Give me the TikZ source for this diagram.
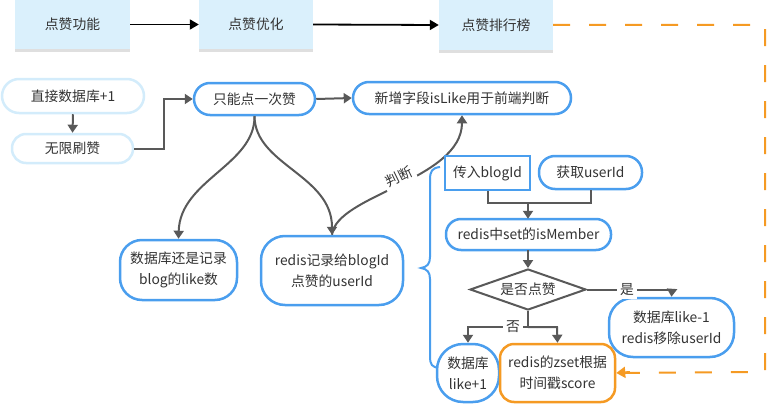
\documentclass[tikz,border=0pt]{standalone}
\usepackage{fontspec}
\setmainfont{Noto Sans CJK SC}
\usetikzlibrary{arrows.meta,shapes.geometric,shadows}
\definecolor{bl}{HTML}{4A9EEE}
\definecolor{pale}{HTML}{D3ECFB}
\definecolor{topfill}{HTML}{DAF0FC}
\definecolor{gr}{HTML}{595959}
\definecolor{org}{HTML}{F59A23}
\definecolor{txt}{HTML}{333333}
\begin{document}
\begin{tikzpicture}[x=1pt,y=-1pt,
  every node/.style={font=\fontsize{13.8}{21}\selectfont, text=txt, inner sep=0pt, align=center},
  topbox/.style={fill=topfill, minimum width=115pt, minimum height=49pt,
    drop shadow={shadow xshift=0pt, shadow yshift=-3pt, opacity=0.25, fill=gray}},
  palebox/.style={draw=pale, line width=2.5pt, fill=white, rounded corners=16pt, minimum height=32pt},
  bluebox/.style={draw=bl, line width=2.5pt, fill=white, rounded corners=16pt, minimum height=32pt},
  blackarrow/.style={line width=1.8pt, black, -{Triangle[length=9pt,width=10pt]}},
  conn/.style={line width=2pt, gr},
  garrow/.style={line width=2pt, gr, -{Triangle[length=8pt,width=10pt]}},
  lbl/.style={fill=white, inner sep=3pt},
  orgdash/.style={line width=2pt, org, dash pattern=on 17pt off 19pt}
]
\useasboundingbox (0,0) rectangle (768,404);

% top row
\node[topbox] (t1) at (72.5,24.5) {点赞功能};
\node[topbox, minimum width=114pt] (t2) at (256,24.5) {点赞优化};
\node[topbox, minimum width=114pt, minimum height=50pt] (t3) at (496,25) {点赞排行榜};
\draw[blackarrow] (t1.east) -- (t2.west);
\draw[blackarrow] (t2.east) -- (t3.west);

% left column
\node[palebox, minimum width=142pt, minimum height=34pt, rounded corners=17pt] (a1) at (73,96) {直接数据库+1};
\node[palebox, minimum width=121pt, minimum height=29pt, rounded corners=14pt] (a2) at (72.5,148.5) {无限刷赞};
\draw[garrow] (a1.south) -- (a2.north);

\node[bluebox, minimum width=121pt] (b1) at (254.5,99) {只能点一次赞};
\node[bluebox, minimum width=218pt] (b2) at (462,98) {新增字段isLike用于前端判断};
\coordinate (k1) at (164,148.5);
\draw[garrow] (a2.east) -- (k1) |- (b1.west);
\draw[garrow] (b1.east) -- (b2.west);

\node[bluebox, minimum width=117pt, minimum height=60pt, rounded corners=22pt] (c1) at (178.5,270) {数据库还是记录\\blog的like数};
\node[bluebox, minimum width=142pt, minimum height=69pt, rounded corners=24pt] (c2) at (332,270.5) {redis记录给blogId\\点赞的userId};
\draw[garrow] (b1.south) .. controls (255,165) and (180,180) .. (c1.north);
\draw[garrow] (b1.south) .. controls (255,165) and (332,175) .. (c2.north);
\draw[garrow] (c2.north) .. controls (336,195) and (462,180) .. (b2.south);
\node[lbl, rotate=26] (pd) at (399,177) {判断};

% brace
\draw[bl, line width=2pt] (440,167) .. controls (432,168) and (430,171) .. (430,180)
  -- (430,257) .. controls (430,264) and (427,267) .. (421,268)
  .. controls (427,269) and (430,272) .. (430,279)
  -- (430,356) .. controls (430,365) and (432,367) .. (439,368);

% right flow
\node[draw=bl, line width=2.5pt, fill=white, minimum width=85pt, minimum height=34pt] (d1) at (487.5,173) {传入blogId};
\node[bluebox, minimum width=103pt, minimum height=33pt] (d2) at (590.5,172.5) {获取userId};
\node[bluebox, minimum width=165pt, minimum height=31pt, rounded corners=15pt] (d3) at (528.5,234.5) {redis中set的isMember};
\coordinate (m1) at (528,203);
\draw[conn] (d1.south) |- (m1);
\draw[conn] (d2.south) |- (m1);
\draw[garrow] (m1) -- (528,218.8);

\node[diamond, draw=gr, line width=2pt, fill=white, minimum width=116pt, minimum height=41pt, aspect=2.8] (e1) at (528,289.5) {是否点赞};
\draw[garrow] (528,250) -- (e1.north);

\node[bluebox, minimum width=125pt, minimum height=59pt, rounded corners=24pt] (f1) at (671.5,327.5) {数据库like-1\\redis移除userId};
\coordinate (y1) at (672,289.5);
\draw[conn] (e1.east) -- (y1);
\draw[garrow] (y1) -- (f1.north);
\node[lbl] (ys) at (627,289.5) {是};

\node[bluebox, minimum width=62pt, minimum height=58pt, rounded corners=26pt] (g1) at (468,373) {数据库\\like+1};
\node[draw=org, line width=2.5pt, fill=white, rounded corners=14pt, minimum width=115pt, minimum height=58pt] (g2) at (557.5,373) {redis的zset根据\\时间戳score};
\coordinate (n0) at (528,327);
\coordinate (n1) at (468,327);
\coordinate (n2) at (557,327);
\draw[conn] (e1.south) -- (n0);
\draw[garrow] (n0) -- (n1) -- (g1.north);
\draw[garrow] (n0) -- (n2) -- (g2.north);
\node[lbl] (no) at (513,327) {否};

% orange dashed
\coordinate (o1) at (765,25);
\coordinate (o2) at (765,372);
\draw[orgdash] (t3.east) -- (o1) -- (o2) -- (g2.east);
\draw[org, line width=2pt, -{Triangle[length=9pt,width=11pt]}] (630,372) -- (g2.east);
\end{tikzpicture}
\end{document}
